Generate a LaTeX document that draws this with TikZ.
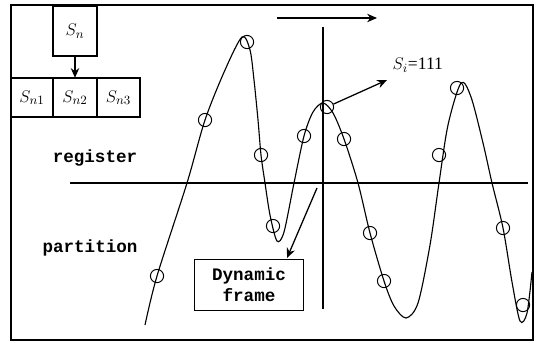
\documentclass[tikz,border=0pt]{standalone}
\usepackage{fontspec}
\setmainfont{Liberation Serif}
\setmonofont{Liberation Mono}
\usetikzlibrary{arrows.meta}
\begin{document}
\begin{tikzpicture}[>={Stealth[length=7pt,width=6pt]}, x=0.025cm, y=-0.025cm, line width=0.9pt]
    \tikzset{box/.style={draw, inner sep=0pt, outer sep=0pt, minimum height=0.98cm, font=\fontsize{12.5}{14}\selectfont},
             lbl/.style={font=\fontsize{12.5}{15}\selectfont\ttfamily\bfseries},
             pt/.style={draw, circle, inner sep=0pt, minimum size=0.33cm, line width=0.7pt}}
    \useasboundingbox (0,0) rectangle (543,342);
    \draw[line width=1.1pt] (11,5) rectangle (533,340);
    % register block
    \node[box, minimum width=1.1cm, minimum height=1.25cm] (sn) at (75,31) {$S_n$};
    \node[box, minimum width=1.05cm] (sn1) at (32,97.5) {$S_{n1}$};
    \node[box, minimum width=1.1cm] (sn2) at (75,97.5) {$S_{n2}$};
    \node[box, minimum width=1.075cm] (sn3) at (118.5,97.5) {$S_{n3}$};
    \draw[->] (sn) -- (sn2);
    % axes
    \coordinate (mv1) at (277,18);
    \coordinate (mv2) at (377,18);
    \draw[->] (mv1) -- (mv2);
    \coordinate (vtop) at (323,27);
    \coordinate (vbot) at (323,309);
    \draw (vtop) -- (vbot);
    \coordinate (hl) at (70,183);
    \coordinate (hr) at (528,183);
    \draw (hl) -- (hr);
    \node[lbl] (reg) at (95,158) {register};
    \node[lbl] (part) at (90,248) {partition};
    % signal
    \draw[line width=0.8pt] plot[smooth, tension=0.5] coordinates {(145,325) (157,276) (187,183) (205,120) (225,70) (242,37)
        (250,50) (254,80) (258,120) (261,155) (265,183) (270,215) (277,241) (284,232) (294,183) (304,136) (313,112)
        (323,103) (333,113) (344,139) (358,183) (370,233) (384,281) (394,306) (406,318) (418,303) (430,245) (439,183)
        (448,125) (461,83) (471,97) (483,143) (492,183) (503,228) (512,282) (520,321) (527,313) (532,272)};
    \foreach \p [count=\i] in {(157,276),(205,120),(247,42),(261,155),(273,226),(304,136),(327,107),
        (344,139),(370,233),(384,281),(439,155),(457,88),(503,228),(523,305)}
        \node[pt] (c\i) at \p {};
    % labels
    \node[anchor=west, font=\fontsize{12.5}{14}\selectfont, inner sep=0pt] (si) at (392,65) {$S_i$=111};
    \coordinate (sitip) at (387,80);
    \draw[->] (c7) -- (sitip);
    \node[draw, lbl, line width=0.7pt, inner sep=0pt, minimum width=2.7cm, minimum height=1.275cm, align=center] (dyn) at (249,284.5) {Dynamic\\frame};
    \coordinate (dynfrom) at (317,188);
    \coordinate (dyntip) at (287,258);
    \draw[->] (dynfrom) -- (dyntip);
\end{tikzpicture}
\end{document}
